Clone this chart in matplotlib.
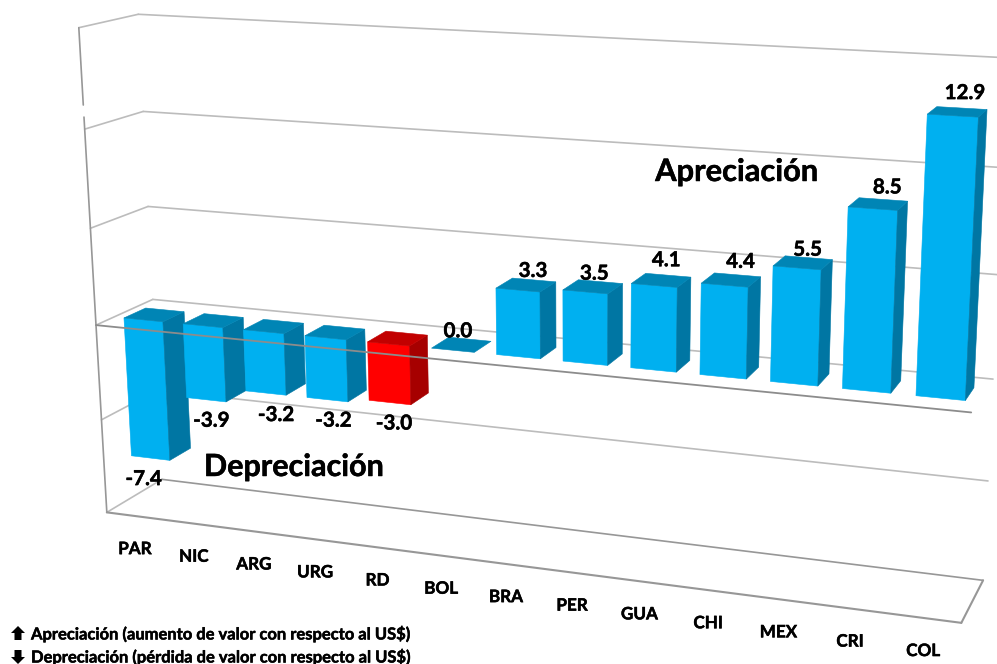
"""Perspective 3D column chart of currency moves against the US$."""

import matplotlib
matplotlib.use('Agg')

import matplotlib.patheffects as pe
import matplotlib.pyplot as plt
import numpy as np

plt.rcParams['font.family'] = ['Lato', 'DejaVu Sans']
plt.rcParams['font.weight'] = 'bold'

# data
categories = ['PAR', 'NIC', 'ARG', 'URG', 'RD', 'BOL', 'BRA', 'PER', 'GUA', 'CHI', 'MEX', 'CRI', 'COL']
values = [-7.4, -3.9, -3.2, -3.2, -3.0, 0.0, 3.3, 3.5, 4.1, 4.4, 5.5, 8.5, 12.9]
highlight = 'RD'
grid_values = [15, 10, 5, 0, -5, -10]

legend_up = 'Apreciación (aumento de valor con respecto al US$)'
legend_down = 'Depreciación (pérdida de valor con respecto al US$)'

# axis box in world units: category position, value, depth (bars sit in depth 0..1)
I_MIN, I_MAX = -0.5, 12.5
D_FRONT, D_BACK = -0.8, 1.8
HALF = 0.33

# hand nudges for the value labels, in pixels
LABEL_NUDGE = [(-7, 1), (5, 1), (10, 2), (6, 1), (4, 1), (-12, 4), (-1, 3), (-6, 4),
               (-2, -3), (3, -1), (-1, 4), (4, 0), (3, -3)]

# camera calibration: world point -> pixel, solved below
CALIB = [
    (-0.33, 0, 0, 123, 318), (0.33, 0, 0, 163, 322), (0.33, 0, 1, 184, 312), (-0.33, 0, 1, 147, 308),
    (-0.33, -7.4, 0, 130, 456), (0.33, -7.4, 0, 169, 461), (0.33, -7.4, 1, 189, 445),
    (11.67, 12.9, 0, 927, 113), (12.33, 12.9, 0, 980, 117), (12.33, 12.9, 1, 988, 110), (11.67, 12.9, 1, 933, 107),
    (11.67, 0, 0, 916, 396), (12.33, 0, 0, 966, 401), (12.33, 0, 1, 974, 388),
    (4.67, 0, 0, 432, 348), (5.33, 0, 0, 475, 353), (5.33, 0, 1, 490, 341), (4.67, 0, 1, 457, 338),
    (3.67, -3, 0, 368, 401), (4.33, -3, 0, 411, 405),
    (5.67, 3.3, 0, 495, 288), (6.33, 3.3, 0, 540, 292), (5.67, 0, 0, 496, 355), (6.33, 0, 0, 540, 358),
    (7.67, 4.1, 0, 630, 283), (8.33, 4.1, 0, 677, 287), (7.67, 0, 0, 630, 368), (8.33, 0, 0, 677, 372),
    (9.67, 5.5, 0, 773, 266), (10.33, 5.5, 0, 822, 270), (9.67, 0, 0, 769, 382), (10.33, 0, 0, 818, 387),
    (10.67, 8.5, 0, 848, 206), (11.33, 8.5, 0, 898, 209), (11.33, 8.5, 1, 908, 201),
    (10.67, 0, 0, 841, 389), (11.33, 0, 0, 891, 394),
    (-0.5, 0, -0.8, 97, 325), (-0.5, 0, 1.8, 152, 300), (12.5, 0, -0.8, 972, 413),
    (-0.5, 15, -0.8, 80, 28), (-0.5, 15, 1.8, 137, 14), (-0.5, 10, 1.8, 143, 112), (-0.5, 5, 1.8, 148, 206),
    (-0.5, -10, -0.8, 107, 512), (-0.5, -10, 1.8, 163, 480), (12.5, -10, -0.8, 961, 622), (12.5, -10, 1.8, 983, 580),
]


def solve_camera(points):
    rows, rhs = [], []
    for i, v, d, px, py in points:
        rows.append([i, v, d, 1, 0, 0, 0, 0, -px * i, -px * v, -px * d])
        rows.append([0, 0, 0, 0, i, v, d, 1, -py * i, -py * v, -py * d])
        rhs += [px, py]
    m = np.linalg.lstsq(np.array(rows, float), np.array(rhs, float), rcond=None)[0]
    return np.append(m, 1.0).reshape(3, 4)


CAM = solve_camera(CALIB)


def project(i, v, d):
    h = CAM @ np.array([i, v, d, 1.0])
    return h[0] / h[2], h[1] / h[2]


def line3d(ax, p0, p1, color, lw=1.2, zorder=1):
    a, b = project(*p0), project(*p1)
    ax.plot([a[0], b[0]], [a[1], b[1]], color=color, lw=lw, solid_capstyle='round', zorder=zorder)


def face(ax, pts, color):
    xy = [project(*p) for p in pts]
    ax.fill([p[0] for p in xy], [p[1] for p in xy], color=color, lw=0.4, ec=color, zorder=2)


def label(ax, x, y, s, size, ha='center'):
    ax.text(x, y, s, ha=ha, va='center', fontsize=size, color='black', zorder=4,
            path_effects=[pe.withStroke(linewidth=0.35, foreground='black')])


fig = plt.figure(figsize=(9.97, 6.64), dpi=100)
ax = fig.add_axes([0, 0, 1, 1])
ax.set_xlim(0, 997)
ax.set_ylim(664, 0)
ax.axis('off')

GRID = '#bcbcbc'
AXIS = '#979797'

# walls: only the grid lines are visible
for g in grid_values:
    c = AXIS if g == -10 else GRID
    line3d(ax, (I_MIN, g, D_FRONT), (I_MIN, g, D_BACK), GRID)
    line3d(ax, (I_MIN, g, D_BACK), (I_MAX, g, D_BACK), c)
line3d(ax, (I_MIN, 15, D_FRONT), (I_MIN, 11.2, D_FRONT), AXIS)
line3d(ax, (I_MIN, 10.6, D_FRONT), (I_MIN, -10, D_FRONT), AXIS)
line3d(ax, (I_MIN, -10, D_FRONT), (I_MAX, -10, D_FRONT), AXIS, 1.5)
line3d(ax, (I_MAX, -10, D_FRONT), (I_MAX, -10, D_BACK), AXIS, 1.5)

# bars, left to right so the later ones overlap the earlier sides
for i, (name, val) in enumerate(zip(categories, values)):
    if name == highlight:
        front, top, side = '#ff0000', '#c20000', '#a60000'
    else:
        front, top, side = '#00b0f0', '#0085b5', '#0076a3'
    l, r = i - HALF, i + HALF
    hi = max(val, 0)
    if val != 0:
        face(ax, [(l, 0, 0), (r, 0, 0), (r, val, 0), (l, val, 0)], front)
        face(ax, [(r, 0, 0), (r, 0, 1), (r, val, 1), (r, val, 0)], side)
    face(ax, [(l, hi, 0), (r, hi, 0), (r, hi, 1), (l, hi, 1)], top)

# category axis at zero runs over the bars
line3d(ax, (I_MIN, 0, D_FRONT), (I_MAX, 0, D_FRONT), '#8c8c8c', 1.3, zorder=3)

# value labels
for i, val in enumerate(values):
    if val < 0:
        x, y = project(i, val, 0)
        y += 20
    else:
        x, y = project(i, val, 1)
        y -= 12
    dx, dy = LABEL_NUDGE[i]
    label(ax, x + dx, y + dy, f'{val:.1f}', 14.8)

# category labels
for i, name in enumerate(categories):
    x, y = project(i, -10, D_FRONT)
    label(ax, x - 1, y + 33, name, 12.3)

label(ax, 737, 172, 'Apreciación', 22.2)
label(ax, 294, 467, 'Depreciación', 22)

# legend
label(ax, 31, 634, legend_up, 11.9, ha='left')
label(ax, 31, 657, legend_down, 11.9, ha='left')
ARROW_X = [-1, 0, 1, 0.5, 0.5, -0.5, -0.5]
ARROW_Y = [0, -1, 0, 0, 1, 1, 0]
for cy, sgn in [(633, 1), (657, -1)]:
    ax.fill([18 + 7 * a for a in ARROW_X], [cy + sgn * 7 * b for b in ARROW_Y], color='black', lw=0)

fig.savefig('out.png', dpi=100)
